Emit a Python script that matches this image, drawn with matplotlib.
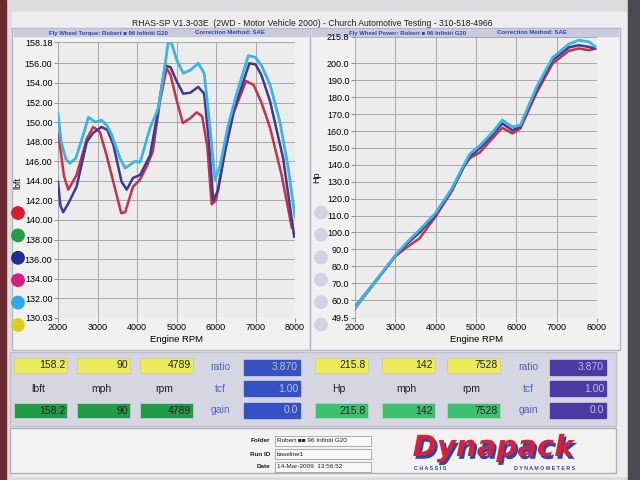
import matplotlib.pyplot as plt
import matplotlib.patheffects as pe
from matplotlib.patches import Rectangle, Circle

plt.rcParams['font.family'] = ['Liberation Sans', 'DejaVu Sans']

# ---- torque curves (lbft vs rpm) ----
tq_cyan_rpm = [2000, 2080, 2200, 2300, 2450, 2640, 2770, 2940, 3100, 3250, 3360, 3570, 3700,
               3950, 4080, 4330, 4540, 4710, 4789, 4880, 5000, 5170, 5350, 5550, 5700,
               5820, 5975, 6100, 6300, 6500, 6820, 7000, 7150, 7370, 7620, 7830, 8000]
tq_cyan = [150.9, 148.0, 146.2, 145.8, 146.3, 148.7, 150.5, 150.0, 150.2, 149.6, 148.7, 146.3, 145.3,
           146.0, 145.9, 149.4, 151.4, 155.8, 158.2, 158.0, 156.4, 155.0, 155.3, 156.0, 155.0,
           150.5, 144.1, 145.5, 149.5, 152.6, 156.8, 156.6, 155.8, 153.8, 150.0, 145.3, 140.3]

tq_navy_rpm = [2000, 2060, 2130, 2250, 2470, 2730, 2890, 3100, 3250, 3400, 3610, 3740, 3900,
               4080, 4330, 4500, 4710, 4850, 5000, 5170, 5350, 5550, 5700, 5820, 5930,
               6050, 6250, 6450, 6845, 7000, 7150, 7370, 7700, 7850, 7980]
tq_navy = [143.9, 141.5, 140.8, 141.6, 143.4, 148.0, 148.9, 149.5, 149.2, 147.7, 143.9, 143.1, 144.3,
           144.6, 146.6, 150.4, 155.8, 155.6, 154.2, 152.9, 153.0, 153.6, 152.9, 148.0, 142.0,
           143.0, 147.5, 151.2, 156.0, 155.9, 154.8, 152.1, 146.3, 142.0, 138.3]

tq_red_rpm = [2000, 2050, 2150, 2260, 2470, 2730, 2890, 3060, 3230, 3400, 3600, 3700, 3900,
              4070, 4250, 4400, 4580, 4750, 4850, 5000, 5160, 5350, 5510, 5650, 5780,
              5890, 6000, 6200, 6450, 6760, 6950, 7150, 7370, 7660, 7920]
tq_red = [148.8, 147.6, 144.5, 143.1, 144.6, 148.3, 149.5, 149.0, 146.6, 143.9, 140.7, 140.8, 143.4,
          144.1, 145.5, 147.0, 152.1, 155.5, 154.8, 152.3, 149.9, 150.4, 151.0, 150.6, 147.5,
          141.6, 142.0, 146.5, 151.0, 154.2, 153.8, 152.0, 149.4, 144.6, 139.2]

# ---- power curves (Hp vs rpm) ----
hp_rpm = [2000, 2500, 3000, 3300, 3600, 4000, 4400, 4700, 4850, 5100, 5400, 5650, 5900,
          6100, 6500, 6900, 7300, 7550, 7800, 7950]
hp_cyan = [55.5, 71.0, 86.5, 94.5, 101.5, 111.5, 126.0, 140.0, 146.5, 151.5, 159.0, 166.5, 162.5,
           163.5, 186.0, 203.5, 211.5, 213.8, 212.8, 210.0]
hp_navy = [56.0, 71.0, 86.0, 93.5, 100.0, 110.5, 125.0, 139.0, 145.0, 150.0, 157.5, 164.5, 160.5,
           162.5, 184.5, 202.0, 209.5, 210.8, 209.8, 208.8]
hp_red = [55.0, 70.5, 86.0, 91.5, 96.5, 109.5, 124.5, 139.0, 144.0, 147.5, 155.5, 162.0, 158.6,
          161.5, 182.5, 200.0, 207.5, 208.9, 207.9, 208.8]

tq_ticks = [130.03, 132, 134, 136, 138, 140, 142, 144, 146, 148, 150, 152, 154, 156, 158.18]
hp_ticks = [49.5, 60, 70, 80, 90, 100, 110, 120, 130, 140, 150, 160, 170, 180, 190, 200, 215.8]
rpm_ticks = [2000, 3000, 4000, 5000, 6000, 7000, 8000]

dot_colors = ['#d42030', '#20a040', '#202a98', '#d02080', '#30a8ec', '#d8d020']

left_vals = ['158.2', '90', '4789']
left_units = ['lbft', 'mph', 'rpm']
right_vals = ['215.8', '142', '7528']
right_units = ['Hp', 'mph', 'rpm']
side_labels = ['ratio', 'tcf', 'gain']
side_vals = ['3.870', '1.00', '0.0']

RED, NAVY, CYAN = '#c8304c', '#3c3a92', '#3cb4e6'

fig = plt.figure(figsize=(6.4, 4.8), dpi=100)
fig.patch.set_facecolor('#dcdcdf')

# background canvas in pixel coordinates
bg = fig.add_axes([0, 0, 1, 1], zorder=0)
bg.set_xlim(0, 640)
bg.set_ylim(480, 0)
bg.axis('off')

bg.add_patch(Rectangle((0, 0), 6, 480, color='#6a2a30'))
bg.add_patch(Rectangle((628, 0), 12, 480, color='#4a4a50'))
bg.add_patch(Rectangle((12, 12), 614, 464, color='#ededef'))
bg.add_patch(Rectangle((12, 28), 298, 322, facecolor='#f1f1f1', edgecolor='#b8b8c0', lw=1))
bg.add_patch(Rectangle((310, 28), 310, 322, facecolor='#f1f1f1', edgecolor='#b8b0c8', lw=1))
bg.add_patch(Rectangle((14, 29), 294, 7, color='#c8cade'))
bg.add_patch(Rectangle((312, 29), 306, 7, color='#c8cade'))

bg.text(312, 23, 'RHAS-SP V1.3-03E  (2WD - Motor Vehicle 2000) - Church Automotive Testing - 310-518-4966',
        ha='center', va='center', fontsize=6.2, color='#202020')
bg.text(49, 33, 'Fly Wheel Torque: Robert \u25a0 96 Infiniti G20', ha='left', va='center',
        fontsize=4.3, color='#3048b0', fontweight='bold')
bg.text(195, 33, 'Correction Method: SAE', ha='left', va='center', fontsize=4.3,
        color='#3048b0', fontweight='bold')
bg.text(349, 33, 'Fly Wheel Power: Robert \u25a0 96 Infiniti G20', ha='left', va='center',
        fontsize=4.3, color='#3048b0', fontweight='bold')
bg.text(497, 33, 'Correction Method: SAE', ha='left', va='center', fontsize=4.3,
        color='#3048b0', fontweight='bold')

# coloured dots beside the plots
for i, c in enumerate(dot_colors):
    y = 213 + i * 22.4
    bg.add_patch(Circle((18, y), 6.2, color=c))
    bg.add_patch(Circle((321, y - 0.5), 6.2, color='#d2d2e2'))

bg.text(18, 183, 'lbft', rotation=90, ha='center', va='center', fontsize=6.5)
bg.text(317, 177, 'Hp', rotation=90, ha='center', va='center', fontsize=6.5)

# readout panel
bg.add_patch(Rectangle((10, 352), 606, 74, facecolor='#d6d6e2', edgecolor='#c0c0cc', lw=1))
box_w, box_h = 53, 15
lx = [14, 77, 140]
rx = [315, 382, 447]
for i in range(3):
    for xs, vals, units, green in ((lx, left_vals, left_units, '#239a48'),
                                   (rx, right_vals, right_units, '#3cc070')):
        x0 = xs[i]
        bg.add_patch(Rectangle((x0, 358), box_w, box_h, facecolor='#ecec58', edgecolor='#c8c8a0', lw=0.6))
        bg.text(x0 + box_w - 2, 365.5, vals[i], ha='right', va='center', fontsize=7.5, color='#202020')
        bg.add_patch(Rectangle((x0, 403), box_w, box_h, facecolor=green, edgecolor='#c0d0c0', lw=0.6))
        bg.text(x0 + box_w - 2, 410.5, vals[i], ha='right', va='center', fontsize=7.5, color='#202020')
        bg.text(x0 + 24, 389, units[i], ha='center', va='center', fontsize=7.5, color='#202020')

for j, (lab, val) in enumerate(zip(side_labels, side_vals)):
    y = 367 + j * 21.5
    bg.text(220, y, lab, ha='center', va='center', fontsize=7.5, color='#4a68c8')
    bg.text(528, y, lab, ha='center', va='center', fontsize=7.5, color='#4a68c8')
    bg.add_patch(Rectangle((244, y - 7.5), 56, 15, color='#3452c4'))
    bg.text(298, y, val, ha='right', va='center', fontsize=7.5, color='#b8c4f0')
    bg.add_patch(Rectangle((550, y - 7.5), 56, 15, color='#4a3aa4'))
    bg.text(604, y, val, ha='right', va='center', fontsize=7.5, color='#c0b8ec')

# footer
bg.add_patch(Rectangle((10, 428), 606, 45, facecolor='#f2f2f2', edgecolor='#b0b0b8', lw=1))
for y, lab, val in ((441, 'Folder', 'Robert \u25a0\u25a0 96 Infiniti G20'),
                    (454, 'Run ID', 'baseline1'),
                    (467, 'Date', '14-Mar-2009  13:56:52')):
    bg.text(270, y, lab, ha='right', va='center', fontsize=4.6, fontweight='bold', color='#202020')
    bg.add_patch(Rectangle((275, y - 5), 96, 10, facecolor='#f8f8f8', edgecolor='#909090', lw=0.5))
    bg.text(277, y, val, ha='left', va='center', fontsize=4.6, color='#202020')

bg.text(493, 448, 'Dynapack', ha='center', va='center', fontsize=21, fontweight='bold',
        fontstyle='italic', color='#d82038', family='DejaVu Sans',
        path_effects=[pe.SimplePatchShadow(offset=(1.5, -2), shadow_rgbFace='#2a44b0', alpha=1),
                      pe.Normal()])
bg.text(430, 469, 'C H A S S I S', ha='center', va='center', fontsize=3.8,
        fontweight='bold', color='#2a44b0')
bg.text(545, 469, 'D Y N A M O M E T E R S', ha='center', va='center', fontsize=3.8,
        fontweight='bold', color='#2a44b0')


def style_axes(ax, yticks, fmt):
    ax.set_facecolor('#ececec')
    ax.set_xlim(2000, 8000)
    ax.set_ylim(yticks[0], yticks[-1])
    ax.set_xticks(rpm_ticks)
    ax.set_yticks(yticks)
    ax.set_yticklabels([fmt.format(t) for t in yticks])
    ax.grid(True, color='#a8a8a8', lw=0.7)
    for s in ax.spines.values():
        s.set_visible(False)
    ax.tick_params(labelsize=6.5, length=3, width=0.6, color='#808080', pad=1)
    ax.set_xlabel('Engine RPM', fontsize=6.8, labelpad=2)


ax1 = fig.add_axes([58 / 640, 1 - 317.6 / 480, 237 / 640, 275.6 / 480], zorder=1)
style_axes(ax1, tq_ticks, '{:.2f}')
ax1.plot(tq_red_rpm, tq_red, color=RED, lw=1.8)
ax1.plot(tq_navy_rpm, tq_navy, color=NAVY, lw=1.8)
ax1.plot(tq_cyan_rpm, tq_cyan, color=CYAN, lw=2.0)

ax2 = fig.add_axes([355 / 640, 1 - 317.8 / 480, 242 / 640, 281 / 480], zorder=1)
style_axes(ax2, hp_ticks, '{:.1f}')
ax2.plot(hp_rpm, hp_red, color=RED, lw=1.8)
ax2.plot(hp_rpm, hp_navy, color=NAVY, lw=1.8)
ax2.plot(hp_rpm, hp_cyan, color=CYAN, lw=2.0)

fig.savefig('out.png', dpi=100)
